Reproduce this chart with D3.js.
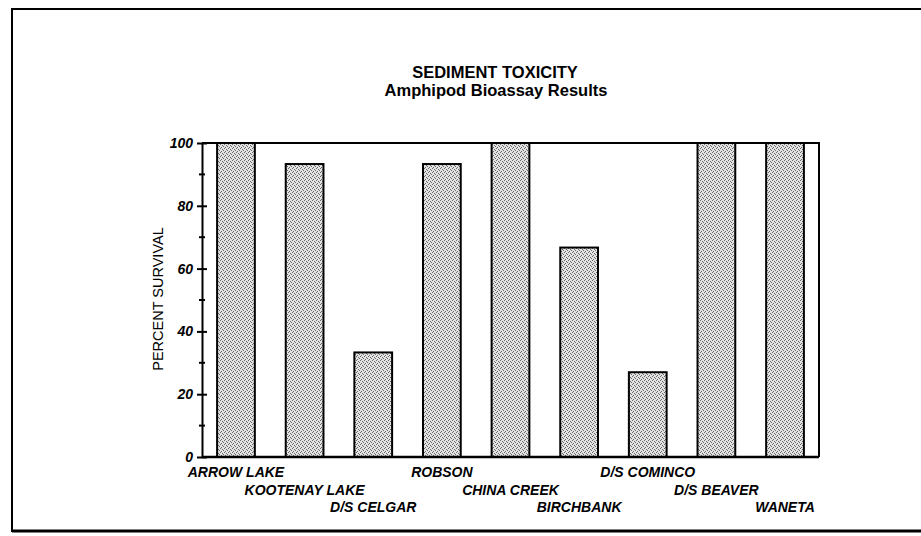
<!DOCTYPE html>
<html>
<head>
<meta charset="utf-8">
<script src="https://cdn.jsdelivr.net/npm/d3@7"></script>
<style>
body { margin: 0; background: #fff; }
text { font-family: "Liberation Sans", Arial, sans-serif; }
.tick text { font-size: 14px; font-weight: bold; font-style: italic; }
.site { font-size: 14px; font-weight: bold; font-style: italic; }
</style>
</head>
<body>
<div class="chart"></div>
<script>
var sites = ["ARROW LAKE", "KOOTENAY LAKE", "D/S CELGAR", "ROBSON", "CHINA CREEK",
	"BIRCHBANK", "D/S COMINCO", "D/S BEAVER", "WANETA"];
var survival = [100, 93.3, 33.3, 93.3, 100, 66.7, 27, 100, 100];
var yTicks = [0, 20, 40, 60, 80, 100];
var yMinor = [10, 30, 50, 70, 90];

var width = 921, height = 536;
var plotL = 202, plotR = 819, plotT = 143, plotB = 457;

var svg = d3.select(".chart").append("svg")
	.attr("width", width)
	.attr("height", height);

// stipple fill
var pat = svg.append("defs").append("pattern")
	.attr("id", "stip")
	.attr("width", 4).attr("height", 4)
	.attr("patternUnits", "userSpaceOnUse");
pat.append("rect").attr("width", 4).attr("height", 4).attr("fill", "#e4e4e4");
[[0,0],[2,1],[1,3],[3,2]].forEach(function(p){
	pat.append("rect").attr("x", p[0]).attr("y", p[1])
		.attr("width", 1).attr("height", 1).attr("fill", "#666");
});

// outer frame
svg.append("path")
	.attr("d", "M" + width + ",9 H12 V531 H" + width)
	.attr("fill", "none").attr("stroke", "#000").attr("stroke-width", 2);
svg.append("line").attr("x1", 12).attr("x2", width).attr("y1", 531).attr("y2", 531)
	.attr("stroke", "#000").attr("stroke-width", 3);

var x = d3.scaleBand()
	.domain(sites)
	.range([plotL, plotR])
	.paddingInner(0.45)
	.paddingOuter(0.22);

var y = d3.scaleLinear()
	.domain([0, 100])
	.range([plotB, plotT]);

// titles
svg.append("text").attr("x", 495).attr("y", 78).attr("text-anchor", "middle")
	.style("font-size", "16.5px").style("font-weight", "bold").text("SEDIMENT TOXICITY");
svg.append("text").attr("x", 496).attr("y", 96).attr("text-anchor", "middle")
	.style("font-size", "16.5px").style("font-weight", "bold").text("Amphipod Bioassay Results");

svg.append("text")
	.attr("transform", "translate(163," + ((plotT + plotB) / 2 - 1) + ") rotate(-90)")
	.attr("text-anchor", "middle")
	.style("font-size", "14.5px")
	.text("PERCENT SURVIVAL");

// bars
svg.selectAll(".bar")
	.data(sites)
	.enter().append("rect")
		.attr("class", "bar")
		.attr("x", function(d){ return x(d); })
		.attr("width", x.bandwidth())
		.attr("y", function(d, i){ return y(survival[i]); })
		.attr("height", function(d, i){ return y(0) - y(survival[i]); })
		.attr("fill", "url(#stip)")
		.attr("stroke", "#000")
		.attr("stroke-width", 2);

// plot box top + right + base
svg.append("path")
	.attr("d", "M" + plotL + "," + plotT + " H" + plotR + " V" + plotB)
	.attr("fill", "none").attr("stroke", "#000").attr("stroke-width", 2);
svg.append("line").attr("x1", plotL).attr("x2", plotR).attr("y1", plotB).attr("y2", plotB)
	.attr("stroke", "#000").attr("stroke-width", 2.5);

// y axis
var yAxis = svg.append("g")
	.attr("transform", "translate(" + plotL + ",0)")
	.call(d3.axisLeft(y).tickValues(yTicks).tickSize(0).tickPadding(9));
yAxis.select(".domain").attr("stroke-width", 2);
yAxis.selectAll(".tick line").attr("x1", -5).attr("x2", 5).attr("stroke-width", 2);
yAxis.selectAll(".tick text").attr("fill", "#000");

svg.selectAll(".minor")
	.data(yMinor)
	.enter().append("line")
		.attr("class", "minor")
		.attr("x1", plotL - 3).attr("x2", plotL + 3)
		.attr("y1", function(d){ return y(d); })
		.attr("y2", function(d){ return y(d); })
		.attr("stroke", "#000").attr("stroke-width", 2);

// staggered site labels
svg.selectAll(".site")
	.data(sites)
	.enter().append("text")
		.attr("class", "site")
		.attr("text-anchor", "middle")
		.attr("x", function(d){ return x(d) + x.bandwidth() / 2; })
		.attr("y", function(d, i){ return plotB + 20 + (i % 3) * 17.5; })
		.text(function(d){ return d; });
</script>
</body>
</html>
